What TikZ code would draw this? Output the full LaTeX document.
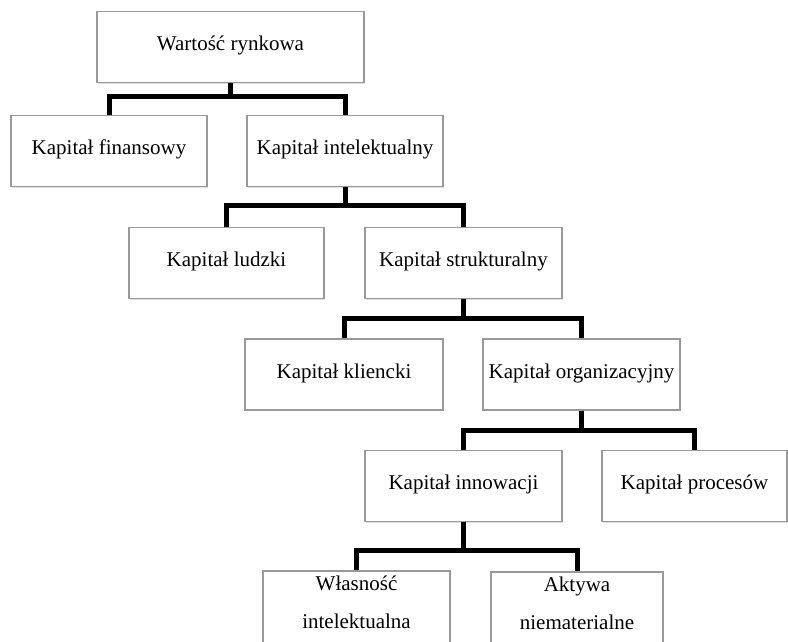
\documentclass[tikz,border=0pt]{standalone}
\usepackage{fontspec}
\setmainfont{Liberation Serif}
\usetikzlibrary{shadows}
\begin{document}
\begin{tikzpicture}[x=1pt,y=-1pt,
    box/.style={draw=gray!80, line width=1.2pt, fill=white, minimum height=71pt,
        inner xsep=2pt, inner ysep=0pt, text height=39pt, text depth=32pt,
        font=\fontsize{21}{38}\selectfont,
        drop shadow={shadow xshift=1pt, shadow yshift=-1pt, fill=gray!50}},
    box2/.style={box, align=center, minimum height=77pt, text height=57pt, text depth=20pt},
    conn/.style={line width=5pt, black}]
    \useasboundingbox (0,0) rectangle (788,641);
    \clip (0,0) rectangle (788,641);
    % boxes
    \node[box, minimum width=267pt] (wr) at (230.5,47) {Wartość rynkowa};
    \node[box, minimum width=196pt] (fin) at (109,151) {Kapitał finansowy};
    \node[box, minimum width=196pt] (int) at (345,151) {Kapitał intelektualny};
    \node[box, minimum width=195pt] (ludz) at (226.5,263) {Kapitał ludzki};
    \node[box, minimum width=197pt] (str) at (463.5,263) {Kapitał strukturalny};
    \node[box, minimum width=198pt] (kl) at (344,374.5) {Kapitał kliencki};
    \node[box, minimum width=197pt] (org) at (581.5,374.5) {Kapitał organizacyjny};
    \node[box, minimum width=197pt] (inn) at (463.5,486) {Kapitał innowacji};
    \node[box, minimum width=185pt] (proc) at (694.5,486) {Kapitał procesów};
    \node[box2, minimum width=187pt] (wl) at (356.5,609.5) {Własność\\intelektualna};
    \node[box2, minimum width=172pt] (akt) at (577,610.5) {Aktywa\\niematerialne};
    % connectors
    \draw[conn] (wr.south) -- ++(0,14);
    \draw[conn] (fin.north) -- ++(0,-18) -| (int.north);
    \draw[conn] (int.south) -- ++(0,20);
    \draw[conn] (ludz.north) -- ++(0,-21) -| (str.north);
    \draw[conn] (str.south) -- ++(0,21);
    \draw[conn] (kl.north) -- ++(0,-20) -| (org.north);
    \draw[conn] (org.south) -- ++(0,22);
    \draw[conn] (inn.north) -- ++(0,-19) -| (proc.north);
    \draw[conn] (inn.south) -- ++(0,30);
    \draw[conn] (wl.north) -- ++(0,-20) -| (akt.north);
\end{tikzpicture}
\end{document}
